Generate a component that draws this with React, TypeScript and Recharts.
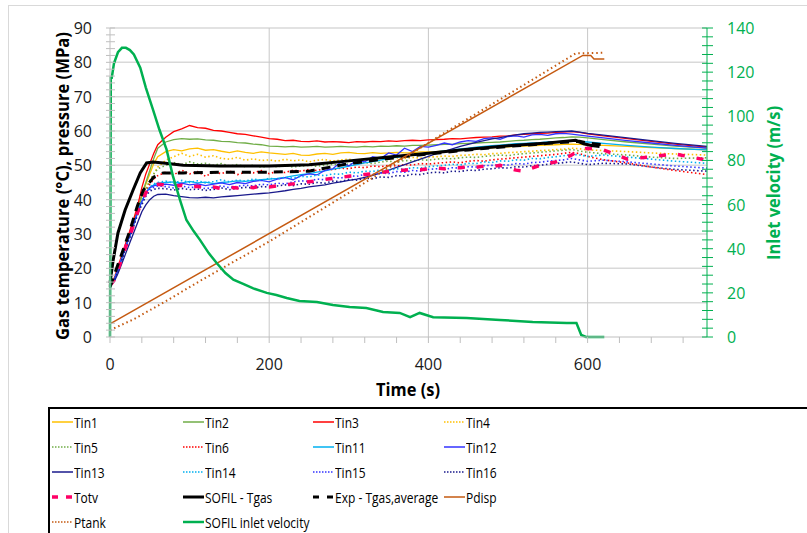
import React from 'react';
import { LineChart, Line, XAxis, YAxis, CartesianGrid, Label } from 'recharts';

// time axis shared by the measured gas temperatures (s)
const time = [
  0, 5, 10, 15, 20, 25, 30, 35, 40, 45, 50, 55, 60,
  70, 80, 90, 100, 110, 120, 130, 140, 150, 160, 170, 180, 190, 200,
  210, 220, 230, 240, 250, 260, 270, 280, 290, 300, 310, 320, 330, 340, 350, 360, 370, 380, 390, 400,
  410, 420, 430, 440, 450, 460, 470, 480, 490, 500, 510, 520, 530, 540, 550, 560, 570, 580, 590, 600,
  620, 650, 680, 710, 750,
];

const tin1 = [
  15, 16.5, 19.5, 23, 26.5, 30, 33.5, 37, 41, 44.5, 47.5, 50.5, 52.5,
  54, 54.6, 54.2, 54.8, 55, 54.4, 54.6, 54.1, 53.7, 54.2, 53.8, 53.5, 53.9, 53.6,
  53.4, 53.2, 53.5, 53, 52.9, 53.3, 53.5, 53.2, 53.6, 53.8, 53.5, 53.4, 53.7, 53.5, 53.6, 53.8, 53.6, 53.7, 53.9, 53.9,
  54, 54.2, 54.3, 54.5, 54.6, 54.8, 55, 55.1, 55.3, 55.4, 55.5, 55.6, 55.7, 55.8, 55.9, 56, 56.1, 56.2, 56.1, 56,
  55.8, 55.5, 55.2, 54.9, 54.5,
];
const tin2 = [
  15, 16.5, 20, 23.5, 27, 30.5, 34, 37.5, 41.5, 45, 48.5, 52, 55,
  56.8, 57.5, 57.8, 57.6, 57.7, 57.4, 57.3, 57, 56.9, 56.6, 56.5, 56.2, 56, 55.6,
  55.5, 55.4, 55.5, 55.3, 55.4, 55.5, 55.3, 55.4, 55.5, 55.4, 55.3, 55.5, 55.4, 55.6, 55.5, 55.7, 55.6, 55.8, 55.8, 55.9,
  56, 56.1, 56.1, 56.3, 56.4, 56.5, 56.6, 56.7, 56.8, 57, 57.2, 57.3, 57.5, 57.6, 57.8, 58, 58.1, 58.3, 58.2, 58,
  57.5, 56.8, 56.2, 55.6, 55,
];
const tin3 = [
  15.5, 17, 20.5, 24, 27.5, 31, 34.5, 38.5, 43.5, 47.5, 50.5, 53.5, 56,
  58.2, 59.8, 60.6, 61.6, 61, 60.8, 60.2, 60, 59.6, 59.2, 59, 58.6, 58.2, 57.8,
  57.6, 57.2, 57.3, 57, 56.9, 57.1, 56.8, 56.9, 56.8, 56.6, 56.9, 56.8, 57, 56.9, 57.1, 57, 57.2, 57.3, 57.2, 57.4,
  57.5, 57.6, 57.8, 57.7, 57.9, 58.1, 58.2, 58.3, 58.5, 58.6, 58.9, 59, 59.2, 59.3, 59.4, 59.6, 59.7, 59.8, 59.6, 59.2,
  58.6, 57.8, 57, 56.2, 55.3,
];
const tin4 = [
  15, 16.5, 19.5, 23, 26.5, 29.5, 33, 36.5, 40, 43, 45.5, 47.5, 49.5,
  51.5, 52.5, 53.5, 52.6, 53.2, 52.4, 52.8, 52, 51.8, 52.3, 51.5, 51.9, 51.4, 51.6,
  51.2, 51.8, 51.3, 51.6, 51, 51.5, 51.7, 51.2, 51.6, 51.8, 51.4, 51.9, 51.7, 52.1, 51.8, 52.2, 52, 52.3, 52.1, 52.4,
  52.5, 52.7, 52.6, 52.9, 53, 53.2, 53.1, 53.4, 53.5, 53.7, 53.8, 54, 54.1, 54.3, 54.4, 54.6, 54.7, 55, 54.8, 54.5,
  54.3, 54, 53.6, 53.3, 53,
];
const tin5 = [
  15, 16.5, 19.5, 23, 26.5, 29.5, 33, 36.5, 40, 43, 45.5, 47.5, 49,
  50, 50.8, 50.2, 51, 50.4, 50.6, 50, 50.5, 49.8, 50.2, 49.6, 50, 49.5, 49.8,
  49.6, 49.9, 49.5, 49.8, 50, 49.7, 50.1, 50.3, 50, 50.4, 50.6, 50.8, 50.5, 51, 51.2, 51, 51.4, 51.3, 51.6, 51.5,
  51.8, 52, 51.9, 52.2, 52.4, 52.3, 52.6, 52.8, 53, 52.8, 53.2, 53.4, 53.6, 53.8, 54, 54.2, 54.4, 54.6, 54.2, 53.8,
  53.4, 53, 52.4, 52, 52.2,
];
const tin6 = [
  15, 16.5, 19.5, 23, 26.5, 29.5, 33, 36.5, 39.5, 42, 44.5, 46, 47,
  48, 47.2, 48.6, 47.5, 48.2, 46.8, 48, 47.6, 48.4, 47.3, 48, 47.8, 48.5, 47.6,
  48.2, 47.9, 48.6, 48.3, 48.8, 48.5, 49, 48.7, 49.2, 49, 49.5, 49.3, 49.8, 49.6, 50, 49.8, 50.2, 50.1, 50.5, 50.4,
  50.6, 50.8, 51, 50.7, 51.2, 51.4, 51.2, 51.6, 51.8, 52, 52.2, 52.4, 52.6, 52.8, 53, 53.2, 53.5, 53.8, 53.4, 52.6,
  51.6, 50.7, 49.5, 48.5, 47.3,
];
const tin11 = [
  15, 16.5, 19.5, 23, 26.5, 29.5, 33, 36.5, 39.5, 42, 43.5, 44.3, 44.8,
  45, 45.2, 44.8, 45.3, 44.9, 45.1, 44.7, 45, 45.2, 45.5, 45.3, 45.6, 45.8, 46,
  46.2, 46.5, 46.9, 47.3, 47.6, 48, 48.4, 48.9, 49.3, 49.8, 50.2, 50.7, 51.1, 51.5, 52, 52.3, 52.7, 53, 53.3, 53.6,
  53.9, 54.2, 54.5, 54.8, 55, 55.3, 55.5, 55.7, 55.9, 56.1, 56.3, 56.4, 56.5, 56.6, 56.8, 56.9, 57, 57.1, 57, 56.8,
  56.4, 55.8, 55.3, 54.9, 54.5,
];
const tin12 = [
  15, 16.5, 19.5, 23, 26.5, 29.5, 33, 36.5, 39.5, 42, 43.5, 44, 44.3,
  44.5, 44.2, 44.8, 44.3, 44.6, 44.1, 44.5, 44.9, 44.4, 45, 44.7, 45.3, 45.6, 45.2,
  46, 46.4, 45.8, 47, 47.5, 47.2, 48.5, 49, 51, 49.8, 51.5, 51, 52.5, 52, 53.6, 53, 55, 54, 55.5, 55.3,
  55.8, 56.5, 56, 56.8, 57.2, 57, 57.8, 58, 57.6, 58.4, 58.6, 58.2, 58.9, 59, 58.7, 59.2, 59.3, 59.1, 58.8, 58.5,
  58, 57.2, 56.5, 55.8, 55,
];
const tin13 = [
  15, 16, 18.5, 21.5, 24.5, 27.5, 30.5, 33.5, 36.5, 38.5, 40, 41, 41.5,
  41.6, 41.2, 40.9, 40.6, 40.5, 40.7, 40.5, 40.8, 41, 41.2, 41.4, 41.6, 41.8, 42,
  42.3, 42.6, 43, 43.3, 43.7, 44, 44.3, 44.8, 45.2, 45.6, 46, 46.5, 47.1, 47.8, 48.6, 49.4, 50.2, 51, 51.8, 52.6,
  53.4, 54.1, 54.8, 55.5, 56.1, 56.7, 57.2, 57.7, 58.1, 58.5, 58.9, 59.2, 59.4, 59.6, 59.7, 59.8, 59.9, 60, 59.7, 59.3,
  58.8, 58, 57.2, 56.4, 55.5,
];
const tin14 = [
  15, 16.5, 19.5, 23, 26.5, 29.5, 33, 36.5, 39.5, 42, 43.7, 44.6, 45,
  45.4, 44.8, 45.6, 45, 45.5, 44.9, 45.3, 45.8, 45.2, 45.7, 45.4, 46, 45.6, 46.2,
  46, 46.5, 46.3, 46.8, 46.6, 47.2, 47, 47.5, 47.4, 48, 47.8, 48.3, 48.2, 48.7, 48.5, 49, 48.9, 49.3, 49.2, 49.6,
  49.8, 50, 50.3, 50.1, 50.6, 50.5, 51, 50.8, 51.3, 51.2, 51.6, 51.5, 52, 51.9, 52.3, 52.5, 52.8, 53.2, 53, 52.6,
  53, 52.4, 51.8, 51.2, 50.6,
];
const tin15 = [
  15, 16.5, 19.5, 23, 26.5, 29.5, 33, 36.5, 39, 41.5, 43, 43.6, 44,
  43.8, 43.4, 44, 43.5, 43.8, 43.2, 43.6, 44, 43.5, 43.9, 44.2, 44, 44.5, 44.3,
  44.8, 44.6, 45.2, 45.5, 45.3, 46, 45.8, 46.5, 46.3, 47, 46.8, 47.4, 47.3, 47.8, 47.6, 48.2, 48, 48.5, 48.3, 48.8,
  49, 48.8, 49.3, 49.2, 49.6, 49.5, 49.9, 50, 50.2, 50.1, 50.5, 50.4, 50.8, 50.9, 51.2, 51.4, 51.6, 52, 51.6, 51.2,
  51.5, 51, 50.4, 49.8, 49.2,
];
const tin16 = [
  15, 16.3, 19, 22.5, 26, 29, 32.5, 36, 38.5, 41, 42.5, 43, 43.3,
  43.2, 42.8, 43.3, 42.9, 43.1, 42.7, 43, 43.4, 42.9, 43.3, 43.6, 43.4, 43.8, 43.7,
  44, 44.3, 44.1, 44.6, 44.5, 45, 44.8, 45.4, 45.3, 45.9, 45.7, 46.2, 46.1, 46.6, 46.5, 47, 46.9, 47.4, 47.3, 47.8,
  48, 47.8, 48.3, 48.2, 48.6, 48.5, 48.9, 49, 49.3, 49.2, 49.6, 49.5, 49.9, 50, 50.3, 50.5, 50.8, 51, 50.6, 50.2,
  50.6, 50.4, 49.5, 48.8, 48.3,
];
const totv = [
  15, 16.5, 19.5, 23, 26.5, 29.5, 33, 36.5, 39.5, 42, 43.5, 44.2, 44.5,
  44.3, 43.8, 44.2, 43.6, 43.9, 43.4, 43.7, 43.2, 43.6, 43.4, 43.8, 43.5, 44, 43.7,
  44, 44.3, 44.6, 44.9, 45.2, 45.5, 45.9, 46.2, 46.5, 46.8, 47, 47.3, 47.6, 47.9, 48.2, 48.5, 48.6, 48.8, 48.7, 49,
  49.2, 49, 49.4, 49.3, 49.6, 49.4, 49.8, 49.6, 50, 49.3, 48.6, 48.3, 49.2, 50, 50.5, 51, 52, 53, 54.5, 55,
  54.5, 51.8, 52.5, 53.3, 51.5,
];

// SOFIL simulated gas temperature
const sofilTime = [0, 4, 10, 19, 29, 38, 46, 54, 67, 92, 138, 200, 250, 300, 350, 400, 450, 500, 550, 585, 595, 605, 615];
const sofilTgas = [15.7, 22.4, 30.3, 37, 42.8, 47.8, 50.7, 51, 50.7, 50, 49.8, 49.8, 50.2, 51.3, 52.4, 53.5, 54.7, 55.7, 56.5, 57.3, 56.3, 55.8, 55.5];

// experimental average gas temperature
const expTime = [0, 12, 25, 34, 42, 55, 67, 92, 150, 200, 250, 300, 350, 400, 450, 500, 550, 590, 600, 620];
const expTgas = [14.6, 22.4, 31, 37.9, 42.8, 46.6, 47.8, 47.8, 48, 48, 48.3, 50.5, 52, 53.3, 54.5, 55.5, 56.4, 57, 56.5, 56];

// pressures (MPa)
const pdispTime = [0, 594, 604, 608, 621];
const pdisp = [3.8, 82, 82, 81, 81];
const ptankTime = [0, 30, 70, 115, 200, 300, 414, 500, 585, 621];
const ptank = [2, 5.2, 10.4, 16.6, 27.8, 42, 58.6, 70.6, 82.6, 82.8];

// SOFIL inlet velocity (m/s), right axis
const velTime = [0, 1, 2, 5, 10, 15, 20, 25, 30, 38, 45, 54, 62, 71, 79, 88, 96, 105, 113, 124, 134, 145, 155, 168, 180, 197, 209, 222, 238, 260, 280, 301, 322, 343, 364, 377, 389, 406, 448, 490, 531, 574, 586, 592, 598, 621];
const velocity = [0, 118, 117, 124, 129, 131, 131, 130, 128, 122, 113, 103, 94, 85, 73, 62, 53, 48, 44, 38, 33.5, 29, 26, 24, 22, 20, 19, 17.7, 16.3, 15.9, 14.5, 13.6, 13.1, 11.3, 10.9, 9, 10.9, 9, 8.6, 7.7, 6.8, 6.3, 6.3, 0.9, 0, 0];

const xTicks = [0, 200, 400, 600];
const leftTicks = [0, 10, 20, 30, 40, 50, 60, 70, 80, 90];
const rightTicks = [0, 20, 40, 60, 80, 100, 120, 140];

const xMinor = Array.from({ length: 19 }, (_, i) => i * 40);
const leftMinor = Array.from({ length: 46 }, (_, i) => i * 2);
const rightMinor = Array.from({ length: 36 }, (_, i) => i * 4);

const tinSeries = [
  { key: 'tin1', name: 'Tin1', values: tin1, color: '#FFC000', dash: '' },
  { key: 'tin2', name: 'Tin2', values: tin2, color: '#70AD47', dash: '' },
  { key: 'tin3', name: 'Tin3', values: tin3, color: '#FF0000', dash: '' },
  { key: 'tin4', name: 'Tin4', values: tin4, color: '#FFC000', dash: '1.5 2.5' },
  { key: 'tin5', name: 'Tin5', values: tin5, color: '#70AD47', dash: '1.5 2.5' },
  { key: 'tin6', name: 'Tin6', values: tin6, color: '#FF0000', dash: '1.5 2.5' },
  { key: 'tin11', name: 'Tin11', values: tin11, color: '#00B0F0', dash: '' },
  { key: 'tin12', name: 'Tin12', values: tin12, color: '#3333FF', dash: '' },
  { key: 'tin13', name: 'Tin13', values: tin13, color: '#1A1A8C', dash: '' },
  { key: 'tin14', name: 'Tin14', values: tin14, color: '#00B0F0', dash: '1.5 2.5' },
  { key: 'tin15', name: 'Tin15', values: tin15, color: '#3333FF', dash: '1.5 2.5' },
  { key: 'tin16', name: 'Tin16', values: tin16, color: '#1A1A8C', dash: '1.5 2.5' },
];

const rows = time.map((t, i) => {
  const r: Record<string, number> = { t, totv: totv[i] };
  tinSeries.forEach(s => { r[s.key] = s.values[i]; });
  return r;
});

const pairs = (ts: number[], vs: number[]) => ts.map((t, i) => ({ t, v: vs[i] }));
const sofilData = pairs(sofilTime, sofilTgas);
const expData = pairs(expTime, expTgas);
const pdispData = pairs(pdispTime, pdisp);
const ptankData = pairs(ptankTime, ptank);
const velData = pairs(velTime, velocity);

const tickFont = { fontFamily: 'Open Sans, sans-serif', fontSize: 16 };

const LeftTick = ({ x, y, payload }: any) => (
  <g>
    <line x1={x - 4} x2={x + 5} y1={y} y2={y} stroke="#bfbfbf" />
    {leftTicks.includes(payload.value) && (
      <text x={x - 18} y={y} textAnchor="end" dominantBaseline="central" fill="#1a1a1a" style={tickFont}>{payload.value}</text>
    )}
  </g>
);

const RightTick = ({ x, y, payload }: any) => (
  <g>
    <line x1={x - 5} x2={x + 6} y1={y} y2={y} stroke="#00B050" />
    {rightTicks.includes(payload.value) && (
      <text x={x + 20} y={y} textAnchor="start" dominantBaseline="central" fill="#00B050" style={tickFont}>{payload.value}</text>
    )}
  </g>
);

const BottomTick = ({ x, y, payload }: any) => (
  <g>
    <line x1={x} x2={x} y1={y} y2={y + 6} stroke="#bfbfbf" />
    {xTicks.includes(payload.value) && (
      <text x={x} y={y + 27} textAnchor="middle" dominantBaseline="central" fill="#1a1a1a" style={tickFont}>{payload.value}</text>
    )}
  </g>
);

const titleStyle = { fontFamily: 'Open Sans, sans-serif', fontSize: 17, fontWeight: 700 };

const legendItems = [
  { name: 'Tin1', color: '#FFC000', dash: '', width: 1.5 },
  { name: 'Tin2', color: '#70AD47', dash: '', width: 1.5 },
  { name: 'Tin3', color: '#FF0000', dash: '', width: 1.5 },
  { name: 'Tin4', color: '#FFC000', dash: '1.5 1.5', width: 1.5 },
  { name: 'Tin5', color: '#70AD47', dash: '1.5 1.5', width: 1.5 },
  { name: 'Tin6', color: '#FF0000', dash: '1.5 1.5', width: 1.5 },
  { name: 'Tin11', color: '#00B0F0', dash: '', width: 1.5 },
  { name: 'Tin12', color: '#3333FF', dash: '', width: 1.5 },
  { name: 'Tin13', color: '#1A1A8C', dash: '', width: 1.5 },
  { name: 'Tin14', color: '#00B0F0', dash: '1.5 1.5', width: 1.5 },
  { name: 'Tin15', color: '#3333FF', dash: '1.5 1.5', width: 1.5 },
  { name: 'Tin16', color: '#1A1A8C', dash: '1.5 1.5', width: 1.5 },
  { name: 'Totv', color: '#FF0066', dash: '6 8', width: 3.5 },
  { name: 'SOFIL - Tgas', color: '#000000', dash: '', width: 3 },
  { name: 'Exp - Tgas,average', color: '#000000', dash: '6 8', width: 3 },
  { name: 'Pdisp', color: '#C55A11', dash: '', width: 1.5 },
  { name: 'Ptank', color: '#C55A11', dash: '1.5 1.5', width: 1.5 },
  { name: 'SOFIL inlet velocity', color: '#00B050', dash: '', width: 2.5 },
];

const LegendBox = () => (
  <div style={{ position: 'absolute', left: 48, top: 407, width: 800, height: 140, border: '2px solid #000', boxSizing: 'border-box' }}>
    {legendItems.map((it, i) => {
      const col = i % 4;
      const row = Math.floor(i / 4);
      return (
        <div key={it.name} style={{ position: 'absolute', left: 2 + col * 130.5, top: 2 + row * 25, height: 22, display: 'flex', alignItems: 'center' }}>
          <svg width={21} height={10}>
            <line x1={0} x2={21} y1={5} y2={5} stroke={it.color} strokeWidth={it.width} strokeDasharray={it.dash || undefined} />
          </svg>
          <span style={{ display: 'inline-block', fontFamily: "'Open Sans', sans-serif", fontSize: 15, color: '#000', marginLeft: 1, whiteSpace: 'nowrap', transform: 'scaleX(0.8)', transformOrigin: 'left center' }}>{it.name}</span>
        </div>
      );
    })}
  </div>
);

export default function App() {
  return (
    <div style={{ position: 'relative', width: 807, height: 533, overflow: 'hidden', background: '#fff' }}>
      <style>{'body{margin:0}'}</style>
      <div style={{ position: 'absolute', left: 8, top: 5, width: 820, height: 560, border: '1px solid #d9d9d9' }} />
      <div style={{ position: 'absolute', left: 0, top: 0 }}>
        <LineChart width={807} height={400} data={rows} margin={{ top: 28, right: 0, bottom: 0, left: 0 }}>
          <CartesianGrid yAxisId="left" vertical={false} horizontalValues={[10, 20, 30, 40, 50, 60, 70, 80, 90]} stroke="#d9d9d9" strokeWidth={1.5} />
          <CartesianGrid yAxisId="left" horizontal={false} verticalValues={[200, 400, 600]} stroke="#c8c8c8" />
          <XAxis
            dataKey="t" type="number" domain={[0, 750]} ticks={xMinor} interval={0}
            height={63} stroke="#bfbfbf" tickLine={false} tickSize={0} tickMargin={0} tick={<BottomTick />}
          >
            <Label content={() => <text x={408} y={389} textAnchor="middle" dominantBaseline="central" textLength={64} lengthAdjust="spacingAndGlyphs" style={titleStyle}>Time (s)</text>} />
          </XAxis>
          <YAxis
            yAxisId="left" domain={[0, 90]} ticks={leftMinor} interval={0} width={110}
            stroke="#bfbfbf" tickLine={false} tickSize={0} tickMargin={0} tick={<LeftTick />}
          >
            <Label content={() => <text x={62} y={186} transform="rotate(-90 62 186)" textAnchor="middle" dominantBaseline="central" textLength={308} lengthAdjust="spacingAndGlyphs" style={titleStyle}>Gas temperature (°C), pressure (MPa)</text>} />
          </YAxis>
          <YAxis
            yAxisId="right" orientation="right" domain={[0, 140]} ticks={rightMinor} interval={0} width={100}
            stroke="#00B050" tickLine={false} tickSize={0} tickMargin={0} tick={<RightTick />}
          >
            <Label content={() => <text x={773} y={183} transform="rotate(-90 773 183)" textAnchor="middle" dominantBaseline="central" textLength={154} lengthAdjust="spacingAndGlyphs" style={{ ...titleStyle, fill: '#00B050' }}>Inlet velocity (m/s)</text>} />
          </YAxis>

          {tinSeries.map(s => (
            <Line key={s.key} yAxisId="left" type="linear" dataKey={s.key} name={s.name} stroke={s.color}
              strokeWidth={s.dash ? 1.6 : 1.3} strokeDasharray={s.dash || undefined} dot={false} isAnimationActive={false} />
          ))}
          <Line yAxisId="left" dataKey="totv" name="Totv" stroke="#FF0066" strokeWidth={3.5} strokeDasharray="7 12" dot={false} isAnimationActive={false} />
          <Line yAxisId="left" data={sofilData} dataKey="v" name="SOFIL - Tgas" stroke="#000" strokeWidth={3} dot={false} isAnimationActive={false} />
          <Line yAxisId="left" data={expData} dataKey="v" name="Exp - Tgas,average" stroke="#000" strokeWidth={3} strokeDasharray="9 7" dot={false} isAnimationActive={false} />
          <Line yAxisId="left" data={pdispData} dataKey="v" name="Pdisp" stroke="#C55A11" strokeWidth={1.5} dot={false} isAnimationActive={false} />
          <Line yAxisId="left" data={ptankData} dataKey="v" name="Ptank" stroke="#C55A11" strokeWidth={2} strokeDasharray="1.5 3" dot={false} isAnimationActive={false} />
          <Line yAxisId="right" data={velData} dataKey="v" name="SOFIL inlet velocity" stroke="#00B050" strokeWidth={2.5} dot={false} isAnimationActive={false} />
        </LineChart>
      </div>
      <LegendBox />
    </div>
  );
}
